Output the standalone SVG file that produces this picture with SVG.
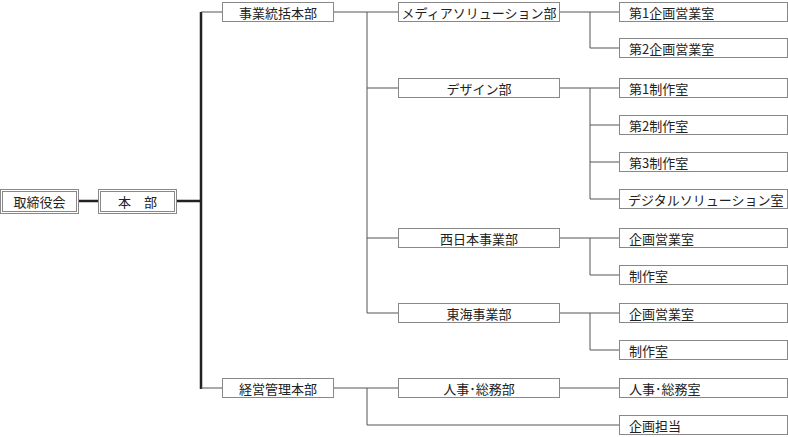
<svg xmlns="http://www.w3.org/2000/svg" width="788" height="437" viewBox="0 0 788 437">
<style>
.b{fill:#fff;stroke:#888;stroke-width:1}
.t{font-family:"Noto Sans CJK JP","Noto Sans",sans-serif;font-size:13px;fill:#222;text-anchor:middle;dominant-baseline:central}
.l{text-anchor:start}
.c{fill:none;stroke:#555;stroke-width:1}
.k{fill:none;stroke:#222;stroke-width:2.5}
</style>
<rect width="788" height="437" fill="#fff"/>
<g id="connectors">
<path class="k" d="M78 201H99M176 201H201M201 12V389"/>
<path class="c" d="M201 12H222M201 388H222M333 12H398M367 12V313M367 88H398M367 238H398M367 313H398M333 388H398M367 388V425H619"/>
<path class="c" d="M559 12H619M590 12V48H619M559 88H619M590 88V199H619M590 125H619M590 162H619M559 238H619M590 238V275H619M559 313H619M590 313V350H619M559 388H619"/>
</g>
<g id="n0"><rect class="b" x="0.5" y="189.5" width="78" height="24"/><rect class="b" x="2.5" y="191.5" width="74" height="20"/><text class="t" x="39.5" y="201.5">取締役会</text></g>
<g id="n1"><rect class="b" x="98.5" y="189.5" width="78" height="24"/><rect class="b" x="100.5" y="191.5" width="74" height="20"/><text class="t" x="137.5" y="201.5">本　部</text></g>
<g id="a1"><rect class="b" x="222.5" y="2.5" width="111" height="19"/><text class="t" x="278" y="12">事業統括本部</text></g>
<g id="a2"><rect class="b" x="222.5" y="378.5" width="111" height="19"/><text class="t" x="278" y="388">経営管理本部</text></g>
<g id="b1"><rect class="b" x="398.5" y="2.5" width="161" height="19"/><text class="t" x="479" y="12">メディアソリューション部</text></g>
<g id="b2"><rect class="b" x="398.5" y="78.5" width="161" height="19"/><text class="t" x="479" y="88">デザイン部</text></g>
<g id="b3"><rect class="b" x="398.5" y="228.5" width="161" height="19"/><text class="t" x="479" y="238">西日本事業部</text></g>
<g id="b4"><rect class="b" x="398.5" y="303.5" width="161" height="19"/><text class="t" x="479" y="313">東海事業部</text></g>
<g id="b5"><rect class="b" x="398.5" y="378.5" width="161" height="19"/><text class="t" x="479" y="388">人事･総務部</text></g>
<g id="c1"><rect class="b" x="619.5" y="2.5" width="168" height="19"/><text class="t l" x="629" y="12">第1企画営業室</text></g>
<g id="c2"><rect class="b" x="619.5" y="38.5" width="168" height="19"/><text class="t l" x="629" y="48">第2企画営業室</text></g>
<g id="c3"><rect class="b" x="619.5" y="78.5" width="168" height="19"/><text class="t l" x="629" y="88">第1制作室</text></g>
<g id="c4"><rect class="b" x="619.5" y="115.5" width="168" height="19"/><text class="t l" x="629" y="125">第2制作室</text></g>
<g id="c5"><rect class="b" x="619.5" y="152.5" width="168" height="19"/><text class="t l" x="629" y="162">第3制作室</text></g>
<g id="c6"><rect class="b" x="619.5" y="189.5" width="168" height="19"/><text class="t l" x="628" y="199">デジタルソリューション室</text></g>
<g id="c7"><rect class="b" x="619.5" y="228.5" width="168" height="19"/><text class="t l" x="629" y="238">企画営業室</text></g>
<g id="c8"><rect class="b" x="619.5" y="265.5" width="168" height="19"/><text class="t l" x="629" y="275">制作室</text></g>
<g id="c9"><rect class="b" x="619.5" y="303.5" width="168" height="19"/><text class="t l" x="629" y="313">企画営業室</text></g>
<g id="c10"><rect class="b" x="619.5" y="340.5" width="168" height="19"/><text class="t l" x="629" y="350">制作室</text></g>
<g id="c11"><rect class="b" x="619.5" y="378.5" width="168" height="19"/><text class="t l" x="629" y="388">人事･総務室</text></g>
<g id="c12"><rect class="b" x="619.5" y="415.5" width="168" height="19"/><text class="t l" x="629" y="425">企画担当</text></g>
</svg>
